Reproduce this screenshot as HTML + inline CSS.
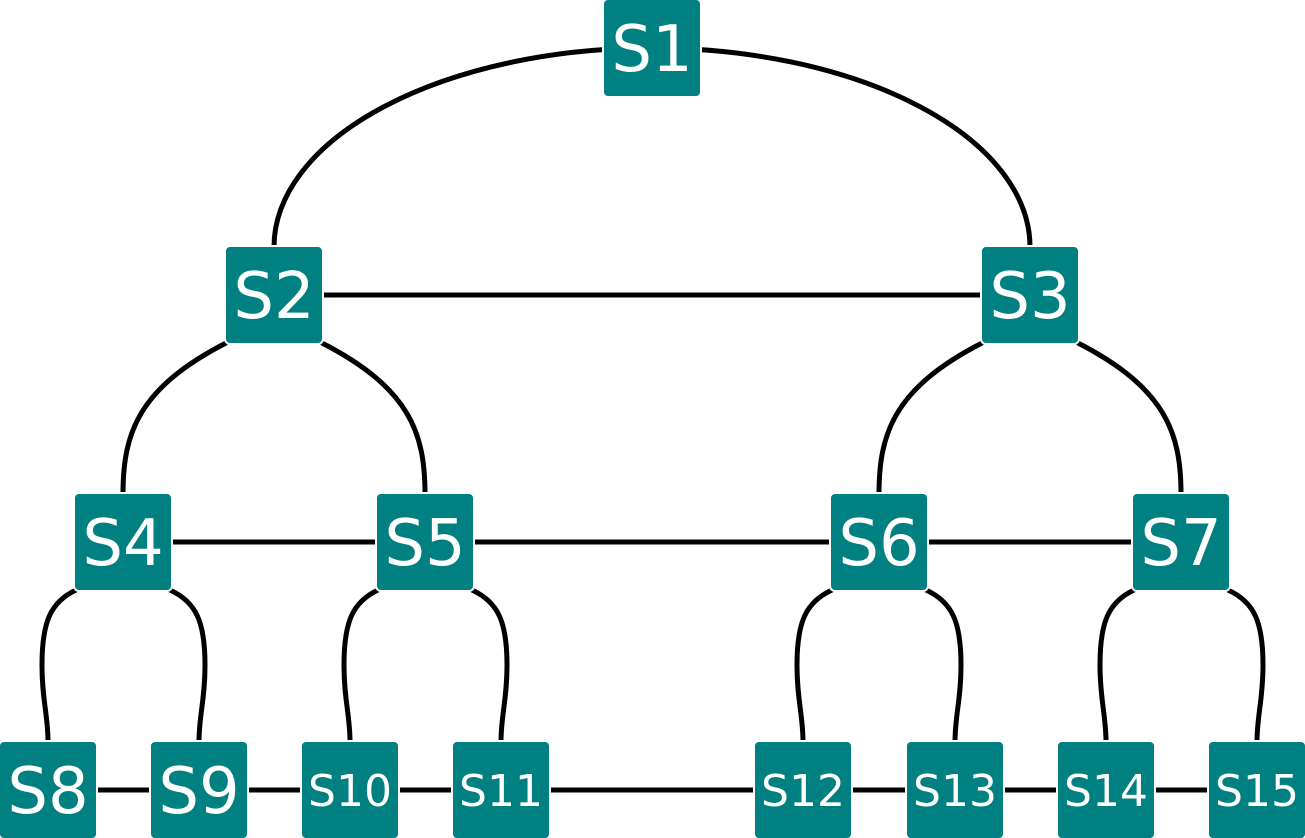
<!DOCTYPE html>
<html><head><meta charset="utf-8"><style>
html,body{margin:0;padding:0;background:#fff;}
svg{display:block;}
text{font-family:"DejaVu Sans","Liberation Sans",sans-serif;fill:#fff;}
</style></head><body>
<svg id="chart" width="1305" height="838" viewBox="0 0 1305 838">
<g id="edges"></g>
<g id="nodes"></g>
</svg>
<script>
const nodeNames = ["S1","S2","S3","S4","S5","S6","S7","S8","S9","S10","S11","S12","S13","S14","S15"];
const nodeX = [652,274,1030,123,425,879,1181,48,199,350,501,803,955,1106,1257];
const nodeY = [48,295,295,542,542,542,542,790,790,790,790,790,790,790,790];
const treeEdges = [[0,1],[0,2],[1,3],[1,4],[2,5],[2,6],[3,7],[3,8],[4,9],[4,10],[5,11],[5,12],[6,13],[6,14]];
const flatEdges = [[1,2],[3,4],[4,5],[5,6],[7,8],[8,9],[9,10],[10,11],[11,12],[12,13],[13,14]];
const NS="http://www.w3.org/2000/svg";
const eg=document.getElementById('edges'), ng=document.getElementById('nodes');
function mk(t,a){const e=document.createElementNS(NS,t);for(const k in a)e.setAttribute(k,a[k]);return e;}
treeEdges.forEach(([a,b])=>{
  const x1=nodeX[a],y1=nodeY[a],x2=nodeX[b],y2=nodeY[b];
  const s=Math.sign(x2-x1);
  let d;
  if(a===0){
    const top=y2-48;
    d=`M${x1},${y1} A${Math.abs(x1-x2)} ${top-y1} 0 0 ${s<0?0:1} ${x2},${top} L${x2},${y2}`;
  } else if(y1===295){
    const cx=x1+48*s, cy=y1+48, top=y2-48;
    d=`M${x1},${y1} L${cx},${cy} C${cx+(x2-cx)*0.85},${cy+45} ${x2},${cy+90} ${x2},${top} L${x2},${y2}`;
  } else {
    const cx=x1+47*s, cy=y1+48, bx=x2+6*s;
    d=`M${x1},${y1} L${cx},${cy} C${bx+(cx-bx)*0.25},${cy+12} ${bx},${cy+32} ${bx},${cy+75} C${bx},${cy+110} ${x2},${cy+125} ${x2},${cy+152} L${x2},${y2}`;
  }
  const p=mk('path',{d:d,fill:'none',stroke:'#000','stroke-width':5});
  
  
  eg.appendChild(p);
});
flatEdges.forEach(([a,b])=>{
  const l=mk('line',{x1:nodeX[a],y1:nodeY[a],x2:nodeX[b],y2:nodeY[b],stroke:'#000','stroke-width':5});
  
  
  eg.appendChild(l);
});
nodeNames.forEach((n,i)=>{
  const g=mk('g',{});
  
  
  g.appendChild(mk('rect',{x:nodeX[i]-49,y:nodeY[i]-49,width:98,height:98,rx:5,fill:'#008080',stroke:'#fff','stroke-width':2}));
  const big=n.length<3;
  const t=mk('text',{x:nodeX[i],y:nodeY[i]+(big?23:16),'text-anchor':'middle','font-size':big?64:44});
  t.textContent=n;
  g.appendChild(t);
  ng.appendChild(g);
});
</script>
</body></html>
